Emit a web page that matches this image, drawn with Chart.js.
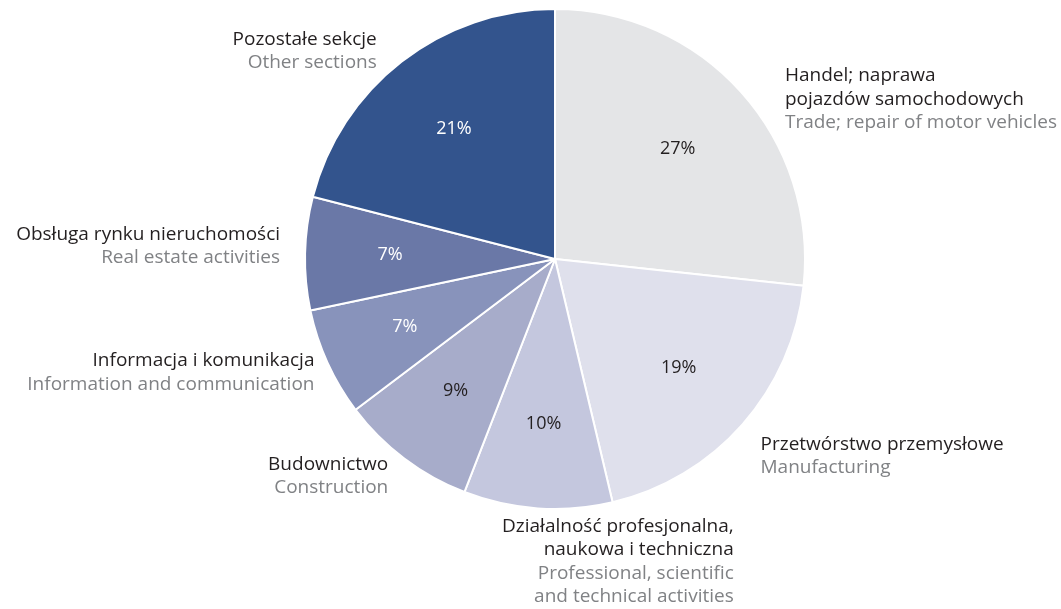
<!DOCTYPE html>
<html>
<head>
<meta charset="utf-8">
<script src="https://cdn.jsdelivr.net/npm/chart.js@4/dist/chart.umd.min.js"></script>
<style>
  html, body { margin: 0; padding: 0; background: #fff; }
  #wrap { width: 1061px; height: 609px; position: relative; }
</style>
</head>
<body>
<div id="wrap"><canvas id="pie"></canvas></div>
<script>
// 各セクションの値（時計回り、12時から）
const sectionsPl = [
  ['Handel; naprawa', 'pojazdów samochodowych'],
  ['Przetwórstwo przemysłowe'],
  ['Działalność profesjonalna,', 'naukowa i techniczna'],
  ['Budownictwo'],
  ['Informacja i komunikacja'],
  ['Obsługa rynku nieruchomości'],
  ['Pozostałe sekcje']
];
const sectionsEn = [
  ['Trade; repair of motor vehicles'],
  ['Manufacturing'],
  ['Professional, scientific', 'and technical activities'],
  ['Construction'],
  ['Information and communication'],
  ['Real estate activities'],
  ['Other sections']
];
const shares = [26.7, 19.6, 9.6, 8.8, 7.0, 7.3, 21.0];
const shareLabels = ['27%', '19%', '10%', '9%', '7%', '7%', '21%'];

const sliceColors = ['#e4e5e7', '#dfe0ec', '#c4c7de', '#a7acca', '#8893bb', '#6a78a7', '#33548d'];
const pctColors = ['#231f20', '#231f20', '#231f20', '#231f20', '#ffffff', '#ffffff', '#ffffff'];

// ラベル位置（円周上の中点からのずれ）
const labelLayout = [
  { dx: 44, dy: -16, align: 'left' },
  { dx: 18, dy: 20, align: 'left' },
  { dx: 196, dy: 18, align: 'right' },
  { dx: -16, dy: 6, align: 'right' },
  { dx: -13, dy: -2, align: 'right' },
  { dx: -25, dy: -19, align: 'right' },
  { dx: -25, dy: -22, align: 'right' }
];

const FONT = '"Open Sans", "Noto Sans", sans-serif';
const LINE_H = 23.5;

// ラベル描画プラグイン
const labelPlugin = {
  id: 'sliceLabels',
  afterDraw(chart) {
    const ctx = chart.ctx;
    const arcs = chart.getDatasetMeta(0).data;
    ctx.save();
    ctx.textBaseline = 'middle';
    arcs.forEach((arc, i) => {
      const p = arc.getProps(['x', 'y', 'startAngle', 'endAngle', 'outerRadius'], true);
      const mid = (p.startAngle + p.endAngle) / 2;

      // パーセント表示
      const rIn = p.outerRadius * 0.66;
      ctx.font = '18px ' + FONT;
      ctx.textAlign = 'center';
      ctx.fillStyle = pctColors[i];
      ctx.fillText(shareLabels[i], p.x + Math.cos(mid) * rIn, p.y + Math.sin(mid) * rIn);

      // セクション名
      const lay = labelLayout[i];
      const ox = p.x + Math.cos(mid) * p.outerRadius + lay.dx;
      let oy = p.y + Math.sin(mid) * p.outerRadius + lay.dy;
      ctx.textAlign = lay.align;
      ctx.font = '19px ' + FONT;
      ctx.fillStyle = '#231f20';
      sectionsPl[i].forEach(line => { ctx.fillText(line, ox, oy); oy += LINE_H; });
      ctx.fillStyle = '#808285';
      sectionsEn[i].forEach(line => { ctx.fillText(line, ox, oy); oy += LINE_H; });
    });
    ctx.restore();
  }
};

new Chart(document.getElementById('pie'), {
  type: 'pie',
  data: {
    labels: sectionsPl.map(l => l.join(' ')),
    datasets: [{
      data: shares,
      backgroundColor: sliceColors,
      borderColor: '#ffffff',
      borderWidth: 2
    }]
  },
  options: {
    responsive: true,
    maintainAspectRatio: false,
    animation: false,
    layout: { padding: { top: 8, bottom: 99, left: 304, right: 255 } },
    plugins: {
      legend: { display: false },
      tooltip: { enabled: false }
    }
  },
  plugins: [labelPlugin]
});
</script>
</body>
</html>
